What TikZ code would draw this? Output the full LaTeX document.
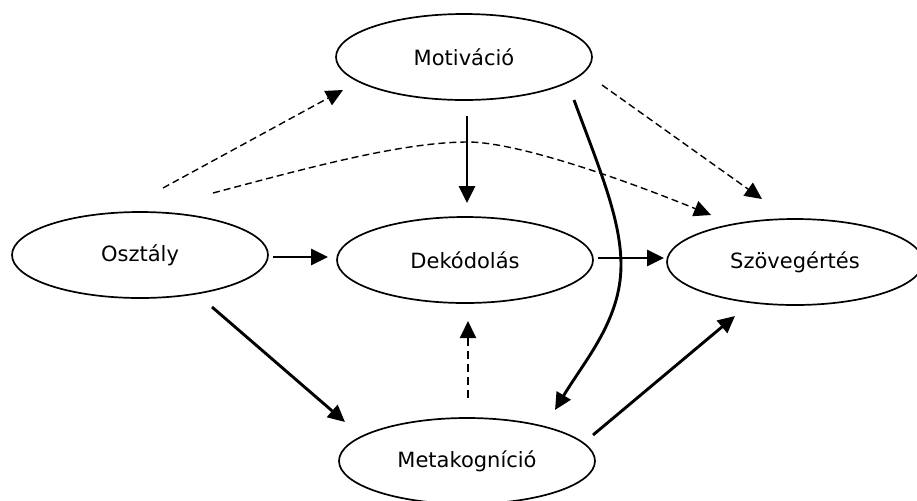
\documentclass[tikz,border=0pt]{standalone}
\usepackage{fontspec}
\setmainfont{DejaVu Sans}
\usetikzlibrary{shapes.geometric,arrows.meta}
\begin{document}
\begin{tikzpicture}[x=0.5pt,y=-0.5pt,
  box/.style={ellipse, draw, line width=0.85pt, minimum width=128pt, minimum height=43pt, inner sep=0pt, font=\fontsize{10.5}{12}\selectfont},
  solidarrow/.style={line width=1.45pt, -{Triangle[length=8.5pt,width=8pt]}},
  dasharrow/.style={line width=0.7pt, dash pattern=on 3.5pt off 2pt, -{Triangle[length=8.5pt,width=8pt]}},
  thickdash/.style={line width=1pt, dash pattern=on 4pt off 2.5pt, -{Triangle[length=8.5pt,width=8pt]}},
]
\useasboundingbox (0,0) rectangle (917,500);
% nodes
\node[box] (mot)  at (464,57)  {Motiváció};
\node[box] (osz)  at (140,255) {Osztály};
\node[box] (dek)  at (465,260) {Dekódolás};
\node[box] (szov) at (795,262) {Szövegértés};
\node[box] (meta) at (467,461) {Metakogníció};
% connector end points
\coordinate (oszA) at (163,188);  \coordinate (motA) at (343,90);
\coordinate (oszB) at (213,193);  \coordinate (peakB) at (468,142); \coordinate (szovB) at (711,215);
\coordinate (motC) at (602,85);   \coordinate (szovC) at (762,199);
\coordinate (motD) at (467,116);  \coordinate (dekD) at (467,203);
\coordinate (motE) at (574,100);  \coordinate (midE) at (621,265); \coordinate (metaE) at (555,410);
\coordinate (oszF) at (273,257);  \coordinate (dekF) at (328,257);
\coordinate (dekG) at (598,258);  \coordinate (szovG) at (664,258);
\coordinate (oszH) at (212,307);  \coordinate (metaH) at (345,422);
\coordinate (metaI) at (468,398); \coordinate (dekI) at (468,321);
\coordinate (metaJ) at (593,435); \coordinate (szovJ) at (735,316);
% connectors
\draw[dasharrow] (oszA) -- (motA);
\draw[dasharrow] (oszB) .. controls (300,170) and (400,142) .. (peakB)
                        .. controls (510,142) and (600,170) .. (szovB);
\draw[dasharrow] (motC) -- (szovC);
\draw[solidarrow] (motD) -- (dekD);
\draw[solidarrow] (motE) .. controls (600,170) and (621,220) .. (midE)
                         .. controls (621,320) and (585,360) .. (metaE);
\draw[solidarrow] (oszF) -- (dekF);
\draw[solidarrow] (dekG) -- (szovG);
\draw[solidarrow] (oszH) -- (metaH);
\draw[thickdash] (metaI) -- (dekI);
\draw[solidarrow] (metaJ) -- (szovJ);
\end{tikzpicture}
\end{document}
